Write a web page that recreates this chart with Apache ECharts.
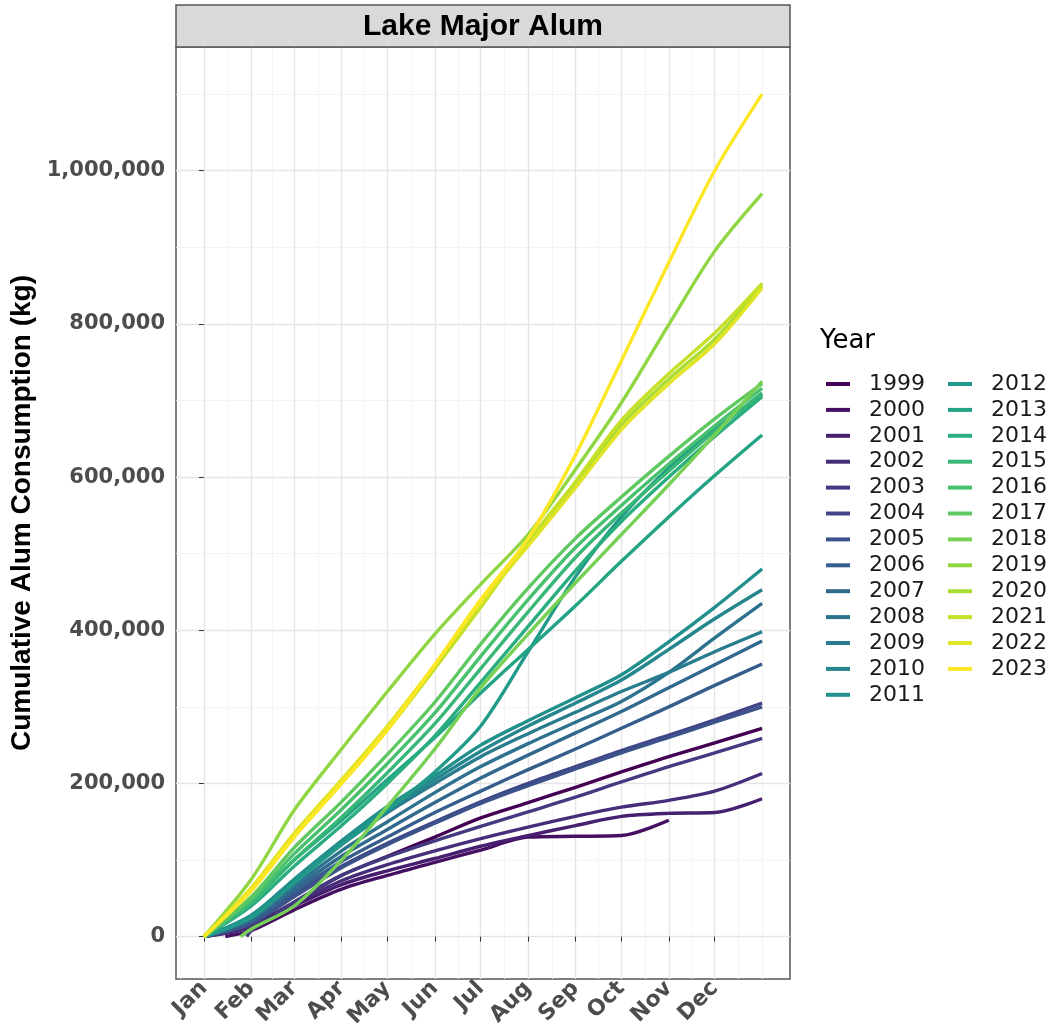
<!DOCTYPE html>
<html>
<head>
<meta charset="utf-8">
<script src="https://cdn.jsdelivr.net/npm/echarts@6/dist/echarts.min.js"></script>
<style>
  html, body { margin: 0; padding: 0; background: #fff; }
  #chart { width: 1049px; height: 1030px; }
</style>
</head>
<body>
<div id="chart"></div>
<script>
// ----- data (cumulative alum, thousands of kg, at the first day of each month) -----
const monthNames = ['Jan', 'Feb', 'Mar', 'Apr', 'May', 'Jun', 'Jul', 'Aug', 'Sep', 'Oct', 'Nov', 'Dec'];
const monthDays  = [0, 31, 59, 90, 120, 151, 181, 212, 243, 273, 304, 334];
const sampleDays = [0, 31, 59, 90, 120, 151, 181, 212, 243, 273, 304, 334, 365];
const minorDays  = [-15.5, 15.5, 45, 74.5, 105, 135.5, 166, 196.5, 227.5, 258, 288.5, 319, 349.5, 365];

const years = ['1999', '2000', '2001', '2002', '2003', '2004', '2005', '2006', '2007', '2008', '2009', '2010',
               '2011', '2012', '2013', '2014', '2015', '2016', '2017', '2018', '2019', '2020', '2021', '2022', '2023'];
// first day with data (most years start Jan 1)
const startDays = [0, 14, 0, 0, 28, 0, 0, 0, 0, 0, 0, 0, 0, 0, 0, 0, 0, 0, 0, 24, 0, 0, 0, 0, 0];

const y1999 = [0, 15, 45, 80, 105, 130, 155, 175, 195, 215, 235, 253, 272];
const y2000 = [0, 8, 35, 62, 80, 97, 113, 130, 131, 132, 152, null, null];
const y2001 = [0, 12, 40, 68, 86, 102, 118, 132, 145, 157, 161, 162, 180];
const y2002 = [0, 13, 43, 73, 94, 112, 128, 143, 157, 169, 178, 190, 213];
const y2003 = [0, 8, 45, 80, 104, 125, 144, 163, 182, 202, 222, 240, 259];
const y2004 = [0, 18, 55, 92, 122, 150, 176, 200, 222, 243, 263, 283, 305];
const y2005 = [0, 17, 52, 90, 120, 148, 174, 197, 219, 240, 260, 280, 300];
const y2006 = [0, 20, 58, 98, 130, 162, 190, 218, 245, 272, 300, 328, 356];
const y2007 = [0, 22, 62, 105, 140, 175, 207, 237, 266, 294, 325, 355, 386];
const y2008 = [0, 24, 66, 112, 150, 188, 222, 252, 280, 307, 345, 390, 435];
const y2009 = [0, 25, 70, 120, 162, 200, 235, 265, 293, 320, 345, 372, 398];
const y2010 = [0, 27, 72, 122, 165, 205, 242, 275, 305, 335, 375, 415, 453];
const y2011 = [0, 28, 75, 125, 170, 210, 250, 282, 312, 342, 385, 430, 480];
const y2012 = [0, 25, 70, 120, 165, 215, 275, 372, 470, 548, 612, 662, 708];
const y2013 = [0, 45, 100, 152, 205, 260, 318, 375, 432, 490, 548, 602, 655];
const y2014 = [0, 40, 92, 145, 200, 262, 332, 405, 478, 542, 600, 653, 705];
const y2015 = [0, 44, 100, 156, 214, 278, 350, 424, 495, 553, 608, 660, 710];
const y2016 = [0, 48, 108, 166, 226, 292, 366, 440, 508, 563, 617, 667, 716];
const y2017 = [0, 52, 116, 176, 238, 306, 382, 455, 520, 574, 627, 676, 722];
const y2018 = [0, 10, 40, 100, 170, 245, 325, 395, 462, 525, 590, 655, 725];
const y2019 = [0, 75, 165, 245, 320, 395, 460, 525, 610, 697, 799, 895, 970];
const y2020 = [0, 62, 132, 202, 272, 352, 432, 514, 590, 668, 728, 780, 850];
const y2021 = [0, 60, 130, 200, 270, 350, 430, 516, 594, 674, 735, 788, 853];
const y2022 = [0, 64, 135, 205, 275, 355, 436, 510, 586, 662, 722, 774, 847];
const y2023 = [0, 60, 130, 200, 270, 355, 440, 520, 629, 752, 880, 1000, 1100];

const yearValues = [y1999, y2000, y2001, y2002, y2003, y2004, y2005, y2006, y2007, y2008, y2009, y2010,
                    y2011, y2012, y2013, y2014, y2015, y2016, y2017, y2018, y2019, y2020, y2021, y2022, y2023];

const yMajor = [0, 200000, 400000, 600000, 800000, 1000000];
const yMinor = [100000, 300000, 500000, 700000, 900000, 1100000];

// ----- viridis palette -----
const viridisStops = ['#440154', '#482576', '#414487', '#35608D', '#2A788E', '#21908C',
                      '#22A884', '#43BF71', '#7AD151', '#BBDF27', '#FDE725'];
function hexToRgb(h) {
  return [1, 3, 5].map(k => parseInt(h.slice(k, k + 2), 16));
}
function viridis(t) {
  const p = t * (viridisStops.length - 1);
  const i = Math.min(Math.floor(p), viridisStops.length - 2);
  const f = p - i;
  const a = hexToRgb(viridisStops[i]), b = hexToRgb(viridisStops[i + 1]);
  const c = a.map((v, k) => Math.round(v + (b[k] - v) * f));
  return 'rgb(' + c.join(',') + ')';
}

// ----- series -----
const series = years.map((name, i) => {
  const vals = yearValues[i];
  const s = startDays[i];
  const data = [[s, 0]];
  sampleDays.forEach((d, j) => {
    if (d > s && vals[j] !== null) data.push([d, vals[j] * 1000]);
  });
  return {
    name,
    type: 'line',
    data,
    color: viridis(i / (years.length - 1)),
    showSymbol: false,
    symbol: 'none',
    smooth: 0.3,
    lineStyle: { width: 3.4 },
    xAxisIndex: 0,
    yAxisIndex: 0
  };
});

const tickFont = { fontFamily: 'DejaVu Sans', fontWeight: 'bold', color: '#4d4d4d' };
const legendText = { fontFamily: 'DejaVu Sans', fontSize: 22, color: '#1a1a1a', lineHeight: 22, padding: [0, 0, 0, 14] };

const chart = echarts.init(document.getElementById('chart'), null, { renderer: 'canvas' });
chart.setOption({
  backgroundColor: '#ffffff',
  animation: false,
  grid: {
    left: 176, top: 47, width: 614, height: 932,
    outerBoundsMode: 'none',
    show: true, borderColor: '#555555', borderWidth: 1.5, backgroundColor: 'transparent'
  },
  xAxis: [
    {
      type: 'value', min: -18.25, max: 383.25, position: 'bottom',
      axisLine: { show: false },
      axisTick: { show: true, length: 5, lineStyle: { color: '#333' }, customValues: monthDays },
      axisLabel: Object.assign({
        customValues: monthDays, rotate: 45, fontSize: 22, margin: 6,
        formatter: (v) => monthNames[monthDays.indexOf(v)] || ''
      }, tickFont),
      splitLine: { show: true, lineStyle: { color: '#e5e5e5', width: 1.4 } }
    },
    {
      type: 'value', min: -18.25, max: 383.25, position: 'top',
      axisLine: { show: false },
      axisTick: { show: false, customValues: minorDays },
      axisLabel: { show: false },
      splitLine: { show: true, lineStyle: { color: '#f1f1f1', width: 0.8 } }
    }
  ],
  yAxis: [
    {
      type: 'value', min: -55300, max: 1161500, position: 'left',
      axisLine: { show: false },
      axisTick: { show: true, length: 5, lineStyle: { color: '#333' }, customValues: yMajor },
      axisLabel: Object.assign({
        customValues: yMajor, fontSize: 21, margin: 11,
        formatter: (v) => v.toLocaleString('en-US')
      }, tickFont),
      splitLine: { show: true, lineStyle: { color: '#e5e5e5', width: 1.4 } },
      name: 'Cumulative Alum Consumption (kg)',
      nameLocation: 'middle',
      nameGap: 124,
      nameTextStyle: { fontFamily: 'Liberation Sans', fontWeight: 'bold', fontSize: 28, color: '#000' }
    },
    {
      type: 'value', min: -55300, max: 1161500, position: 'right',
      axisLine: { show: false },
      axisTick: { show: false, customValues: yMinor },
      axisLabel: { show: false },
      splitLine: { show: true, lineStyle: { color: '#f1f1f1', width: 0.8 } }
    }
  ],
  legend: [
    {
      data: years.slice(0, 13), orient: 'vertical', left: 821, top: 368,
      icon: 'rect', itemWidth: 24, itemHeight: 4, itemGap: 3.9,
      textStyle: legendText, selectedMode: false
    },
    {
      data: years.slice(13), orient: 'vertical', left: 943, top: 368,
      icon: 'rect', itemWidth: 24, itemHeight: 4, itemGap: 3.9,
      textStyle: legendText, selectedMode: false
    }
  ],
  graphic: [
    {
      type: 'rect', z: 10,
      shape: { x: 176, y: 5, width: 614, height: 42 },
      style: { fill: '#d9d9d9', stroke: '#555555', lineWidth: 1.5 }
    },
    {
      type: 'text', z: 11, x: 483, y: 27,
      style: { text: 'Lake Major Alum', align: 'center', verticalAlign: 'middle',
               fontFamily: 'Liberation Sans', fontWeight: 'bold', fontSize: 30, fill: '#000' }
    },
    {
      type: 'text', z: 11, x: 820, y: 341,
      style: { text: 'Year', align: 'left', verticalAlign: 'middle',
               fontFamily: 'DejaVu Sans', fontSize: 26, fill: '#000' }
    }
  ],
  series
});
</script>
</body>
</html>
